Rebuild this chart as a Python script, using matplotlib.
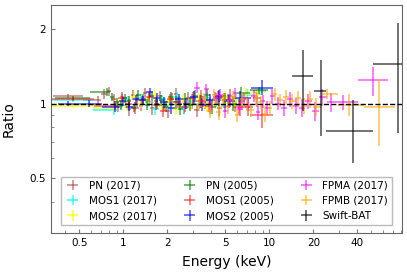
import numpy as np
import matplotlib.pyplot as plt
from matplotlib.ticker import FixedLocator, NullFormatter, LogLocator

# ---------------------------------------
# data: energy (keV), data/model ratio, error
# ---------------------------------------

pn17_e = [0.42, 0.67, 0.74, 0.80, 0.86, 0.92, 0.98, 1.04, 1.10, 1.17, 1.24, 1.32, 1.40,
          1.49, 1.58, 1.68, 1.79, 1.90, 2.02, 2.15, 2.29, 2.44, 2.6, 2.78, 2.97, 3.18,
          3.4, 3.65, 3.92, 4.22, 4.55, 4.92, 5.35, 5.85, 6.45, 7.2, 8.2]
pn17_r = [1.07, 1.03, 1.09, 1.12, 1.04, 0.97, 1.06, 1.01, 0.95, 1.08, 1.03, 0.98, 1.10,
          1.05, 0.96, 1.02, 1.07, 0.99, 0.93, 1.04, 1.09, 1.00, 0.97, 1.05, 1.02, 0.94,
          1.06, 1.01, 0.98, 1.04, 0.96, 1.03, 1.07, 0.99, 1.02, 0.97, 1.05]
pn17_err = [0.02, 0.04, 0.05, 0.05, 0.05, 0.05, 0.05, 0.05, 0.06, 0.05, 0.06, 0.05, 0.06,
            0.05, 0.06, 0.06, 0.05, 0.06, 0.06, 0.06, 0.06, 0.06, 0.06, 0.06, 0.07, 0.06,
            0.07, 0.06, 0.07, 0.07, 0.07, 0.07, 0.07, 0.07, 0.08, 0.08, 0.08]

mos1_17_e = [0.45, 0.87, 0.97, 1.08, 1.2, 1.33, 1.48, 1.65, 1.85, 2.07, 2.32, 2.6, 2.92,
             3.3, 3.75, 4.3, 5.0, 5.9, 7.0, 8.6]
mos1_17_r = [1.03, 0.94, 0.99, 1.03, 0.97, 1.05, 1.01, 0.95, 1.04, 0.99, 1.06, 0.96, 1.02,
             1.00, 1.05, 1.03, 0.98, 1.04, 1.08, 1.12]
mos1_17_err = [0.02, 0.04, 0.04, 0.04, 0.04, 0.04, 0.04, 0.05, 0.04, 0.05, 0.05, 0.05, 0.05,
               0.05, 0.05, 0.06, 0.06, 0.06, 0.06, 0.04]

mos2_17_e = [0.45, 0.86, 0.96, 1.07, 1.19, 1.32, 1.47, 1.64, 1.83, 2.05, 2.3, 2.58, 2.9,
             3.28, 3.72, 4.25, 4.95, 5.8, 6.9, 8.4]
mos2_17_r = [0.98, 0.96, 1.02, 0.97, 1.06, 1.00, 1.03, 1.08, 0.98, 1.02, 0.95, 1.04, 0.99,
             1.05, 0.97, 1.01, 1.06, 1.03, 1.09, 1.11]
mos2_17_err = [0.02, 0.04, 0.04, 0.04, 0.04, 0.04, 0.04, 0.05, 0.04, 0.05, 0.05, 0.05, 0.05,
               0.05, 0.05, 0.06, 0.06, 0.06, 0.06, 0.04]

pn05_e = [0.45, 0.78, 0.84, 0.9, 0.96, 1.03, 1.1, 1.18, 1.27, 1.36, 1.46, 1.57, 1.69,
          1.82, 1.96, 2.11, 2.28, 2.46, 2.66, 2.88, 3.12, 3.4, 3.72, 4.08, 4.5, 5.0,
          5.6, 6.4, 8.5]
pn05_r = [1.05, 1.11, 1.06, 1.01, 0.98, 1.05, 1.02, 0.96, 1.08, 1.04, 0.99, 1.07, 1.00,
          1.03, 0.97, 1.06, 1.01, 0.95, 1.04, 0.99, 1.07, 1.02, 1.08, 0.97, 1.05, 1.03,
          1.00, 1.10, 1.13]
pn05_err = [0.02, 0.04, 0.04, 0.04, 0.04, 0.04, 0.05, 0.04, 0.05, 0.05, 0.05, 0.05, 0.05,
            0.05, 0.05, 0.05, 0.06, 0.05, 0.06, 0.06, 0.06, 0.06, 0.06, 0.06, 0.07, 0.07,
            0.07, 0.07, 0.04]

mos1_05_e = [0.45, 0.88, 0.98, 1.09, 1.21, 1.35, 1.5, 1.68, 1.88, 2.1, 2.36, 2.65, 2.98,
             3.38, 3.85, 4.45, 5.2, 6.2, 8.9]
mos1_05_r = [1.04, 0.98, 1.05, 1.00, 0.96, 1.03, 1.06, 0.99, 0.93, 1.04, 1.01, 0.97, 1.05,
             1.02, 0.98, 1.06, 1.03, 0.97, 0.895]
mos1_05_err = [0.02, 0.04, 0.04, 0.04, 0.05, 0.04, 0.05, 0.05, 0.05, 0.05, 0.05, 0.05, 0.06,
               0.06, 0.06, 0.06, 0.06, 0.07, 0.10]

mos2_05_e = [0.42, 0.58, 0.88, 0.99, 1.1, 1.22, 1.36, 1.52, 1.7, 1.9, 2.13, 2.4, 2.7,
             3.05, 3.45, 3.95, 4.55, 5.3, 6.3, 8.9]
mos2_05_r = [1.00, 1.00, 0.965, 1.02, 0.97, 1.04, 1.03, 1.11, 1.05, 1.01, 0.96, 1.04, 1.00,
             1.06, 0.99, 1.03, 1.07, 1.02, 1.05, 1.16]
mos2_05_err = [0.02, 0.03, 0.04, 0.04, 0.04, 0.04, 0.04, 0.05, 0.05, 0.05, 0.05, 0.05, 0.05,
               0.06, 0.06, 0.06, 0.06, 0.06, 0.07, 0.08]

fpma_e = [3.2, 3.5, 3.7, 4.0, 4.3, 4.6, 5.0, 5.4, 5.8, 6.25, 6.7, 7.2, 7.8, 8.4, 9.0, 9.7,
          10.5, 11.4, 12.5, 13.8, 15.3, 16.8, 18.5, 20.5, 23.0, 26.5, 32.1, 51.5]
fpma_r = [1.16, 1.02, 1.14, 0.97, 1.05, 1.08, 0.93, 1.03, 1.10, 0.95, 1.04, 0.99, 1.07, 0.92,
          1.02, 0.96, 1.07, 1.00, 0.96, 1.04, 0.98, 0.96, 1.02, 0.93, 1.06, 1.01, 1.01, 1.24]
fpma_err = [0.06, 0.05, 0.06, 0.05, 0.05, 0.06, 0.06, 0.06, 0.06, 0.06, 0.06, 0.06, 0.06, 0.06,
            0.06, 0.06, 0.07, 0.06, 0.07, 0.07, 0.07, 0.08, 0.07, 0.08, 0.08, 0.09, 0.07, 0.17]

fpmb_e = [3.3, 3.6, 3.9, 4.2, 4.5, 4.85, 5.2, 5.6, 6.05, 6.5, 7.0, 7.5, 8.1, 8.7, 9.4,
          10.1, 10.9, 11.8, 12.9, 14.2, 15.6, 17.2, 19.0, 21.0, 24.9, 35.3, 56.7]
fpmb_r = [0.98, 1.05, 0.93, 1.08, 0.92, 1.03, 0.97, 1.06, 0.90, 1.04, 0.99, 0.94, 1.05, 1.01,
          0.91, 0.96, 1.09, 1.03, 1.06, 1.02, 1.05, 0.98, 1.04, 0.97, 1.09, 0.99, 0.966]
fpmb_err = [0.05, 0.05, 0.06, 0.06, 0.06, 0.06, 0.06, 0.06, 0.06, 0.06, 0.06, 0.06, 0.06, 0.06,
            0.07, 0.06, 0.07, 0.06, 0.07, 0.07, 0.07, 0.07, 0.08, 0.08, 0.05, 0.10, 0.29]

bat_e = [17.1, 22.4, 37.6, 76.5]
bat_lo = [14.4, 20.3, 24.6, 51.3]
bat_hi = [20.0, 24.6, 50.8, 114.0]
bat_r = [1.29, 1.12, 0.775, 1.44]
bat_err_lo = [0.36, 0.38, 0.20, 0.68]
bat_err_hi = [0.35, 0.38, 0.26, 0.68]


def bin_xerr(e):
    # contiguous bins: edges halfway (in log) between neighbouring centres
    e = np.asarray(e, dtype=float)
    mid = np.sqrt(e[1:] * e[:-1])
    lo = np.concatenate([[e[0] ** 2 / mid[0]], mid])
    hi = np.concatenate([mid, [e[-1] ** 2 / mid[-1]]])
    return [e - lo, hi - e]


series = [
    ("PN (2017)", pn17_e, pn17_r, pn17_err, "brown", 0.6),
    ("MOS1 (2017)", mos1_17_e, mos1_17_r, mos1_17_err, "cyan", 0.8),
    ("MOS2 (2017)", mos2_17_e, mos2_17_r, mos2_17_err, "yellow", 0.85),
    ("PN (2005)", pn05_e, pn05_r, pn05_err, "green", 0.7),
    ("MOS1 (2005)", mos1_05_e, mos1_05_r, mos1_05_err, "red", 0.6),
    ("MOS2 (2005)", mos2_05_e, mos2_05_r, mos2_05_err, "blue", 0.7),
    ("FPMA (2017)", fpma_e, fpma_r, fpma_err, "magenta", 0.65),
    ("FPMB (2017)", fpmb_e, fpmb_r, fpmb_err, "orange", 0.7),
]

fig = plt.figure(figsize=(4.07, 2.77), dpi=100)
ax = fig.add_axes([0.125, 0.159, 0.863, 0.823])

for label, e, r, err, col, a in series:
    ax.errorbar(e, r, xerr=bin_xerr(e), yerr=err, fmt='none', ecolor=col,
                elinewidth=1.1, alpha=a, label=label)

bat_e_arr = np.array(bat_e)
ax.errorbar(bat_e, bat_r,
            xerr=[bat_e_arr - np.array(bat_lo), np.array(bat_hi) - bat_e_arr],
            yerr=[bat_err_lo, bat_err_hi], fmt='none', ecolor='black',
            elinewidth=1.1, alpha=0.7, label="Swift-BAT")

ax.axhline(1.0, color='black', ls='--', lw=1.0, zorder=10)

ax.set_xscale('log')
ax.set_yscale('log')
ax.set_xlim(0.32, 81)
ax.set_ylim(0.3, 2.5)

xt = [0.5, 1, 2, 5, 10, 20, 40]
ax.xaxis.set_major_locator(FixedLocator(xt))
ax.set_xticklabels(["0.5", "1", "2", "5", "10", "20", "40"])
ax.xaxis.set_minor_locator(LogLocator(base=10, subs=np.arange(2, 10)))
ax.xaxis.set_minor_formatter(NullFormatter())

yt = [0.5, 1, 2]
ax.yaxis.set_major_locator(FixedLocator(yt))
ax.set_yticklabels(["0.5", "1", "2"])
ax.yaxis.set_minor_locator(LogLocator(base=10, subs=np.arange(2, 10)))
ax.yaxis.set_minor_formatter(NullFormatter())

ax.tick_params(which='both', direction='in', color='#777777', labelsize=7.5)
ax.tick_params(which='major', length=3)
ax.tick_params(which='minor', length=2)
for s in ax.spines.values():
    s.set_color('#666666')

ax.set_xlabel("Energy (keV)", fontsize=10, labelpad=5)
ax.set_ylabel("Ratio", fontsize=10, labelpad=10)

leg = ax.legend(ncol=3, loc='lower center', bbox_to_anchor=(0.5, 0.02),
                fontsize=7.5, fancybox=False, edgecolor='#aaaaaa',
                handlelength=1.5, columnspacing=2.4, borderaxespad=0.3)

plt.savefig("out.png", dpi=100)
